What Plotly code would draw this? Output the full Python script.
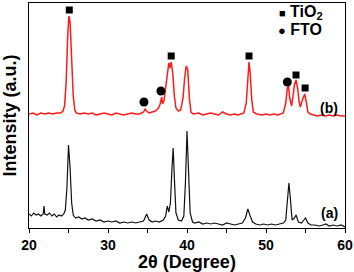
import plotly.graph_objects as go

# Sample (a) - black
xa = [20.0, 20.3, 20.6, 20.9, 21.2, 21.5, 21.8, 21.9, 22.0, 22.3, 22.6, 22.9, 23.2, 23.5, 23.8, 24.1, 24.4, 24.6, 24.8,
      25.0, 25.2, 25.4, 25.6, 25.9, 26.3, 26.7, 27.1, 27.5, 28.0, 28.5, 29.0, 29.5, 30.0, 30.5, 31.0, 31.5, 32.0, 32.5,
      33.0, 33.5, 34.0, 34.5, 34.9, 35.2, 35.6, 36.0, 36.5, 37.0, 37.3, 37.5, 37.7, 37.9, 38.1, 38.25, 38.4, 38.6, 38.9,
      39.3, 39.6, 39.8, 40.0, 40.2, 40.4, 40.7, 41.0, 41.5, 42.0, 42.5, 43.0, 43.5, 44.0, 44.5, 45.0, 45.5, 46.0, 46.5,
      47.0, 47.4, 47.7, 48.0, 48.3, 48.7, 49.2, 49.7, 50.2, 50.7, 51.2, 51.7, 52.2, 52.5, 52.7, 52.9, 53.1, 53.3, 53.6,
      53.8, 54.1, 54.5, 54.8, 55.0, 55.3, 55.7, 56.2, 56.7, 57.2, 57.6, 58.0, 58.5, 59.0, 59.5, 60.0]
ya = [14, 12, 15, 13, 14, 12, 14, 22, 14, 13, 15, 12, 14, 11, 13, 12, 14, 18, 40,
      83, 60, 25, 13, 10, 11, 9, 10, 8, 9, 7, 8, 6, 7, 6, 7, 5, 6, 5,
      6, 5, 6, 7, 14, 8, 6, 7, 6, 8, 12, 22, 16, 25, 60, 80, 50, 15, 8,
      7, 12, 45, 97, 55, 15, 6, 5, 6, 4, 5, 4, 5, 4, 3, 5, 4, 3, 4,
      5, 10, 19, 12, 6, 4, 3, 4, 3, 4, 3, 4, 5, 8, 25, 45, 28, 8, 10,
      13, 6, 5, 8, 10, 5, 3, 3, 2, 3, 4, 2, 3, 2, 3, 1]

# Sample (b) - red
xb = [20.0, 20.5, 21.0, 21.5, 22.0, 22.5, 23.0, 23.5, 24.0, 24.3, 24.5, 24.7, 24.9, 25.05, 25.2, 25.4, 25.6, 25.8,
      26.0, 26.5, 27.0, 27.5, 28.0, 28.5, 29.0, 29.5, 30.0, 30.5, 31.0, 31.5, 32.0, 32.5, 33.0, 33.5, 34.0, 34.5,
      34.7, 34.9, 35.2, 35.6, 36.0, 36.4, 36.6, 36.8, 36.9, 37.1, 37.3, 37.5, 37.7, 37.85, 38.0, 38.2, 38.4, 38.6,
      38.9, 39.2, 39.5, 39.7, 39.9, 40.1, 40.3, 40.5, 40.8, 41.5, 42.0, 42.5, 43.0, 43.5, 44.0, 44.5, 45.0, 45.5,
      46.0, 46.5, 47.0, 47.2, 47.5, 47.7, 47.85, 48.0, 48.2, 48.4, 48.8, 49.5, 50.0, 50.5, 51.0, 51.5, 52.0, 52.2,
      52.5, 52.7, 52.85, 53.0, 53.25, 53.45, 53.6, 53.8, 54.0, 54.2, 54.35, 54.6, 54.9, 55.1, 55.3, 55.6, 56.0,
      56.5, 57.0, 57.5, 58.0, 58.5, 59.0, 59.5, 60.0]
yb = [114, 115, 113, 115, 114, 115, 114, 115, 115, 117, 122, 145, 192, 212, 206, 172, 132, 118,
      115, 114, 115, 114, 115, 113, 114, 115, 114, 113, 115, 114, 113, 114, 115, 114, 114, 116,
      119, 117, 115, 116, 117, 120, 124, 131, 124, 128, 140, 155, 165, 160, 166, 155, 132, 120,
      117, 118, 130, 150, 162, 158, 130, 116, 114, 115, 113, 114, 115, 114, 113, 116, 114, 113,
      114, 113, 114, 115, 125, 155, 166, 155, 128, 116, 114, 113, 114, 113, 114, 113, 114, 115,
      125, 140, 142, 130, 122, 132, 143, 148, 140, 126, 121, 128, 134, 126, 116, 114, 113,
      112, 113, 112, 113, 112, 113, 112, 112]

# Phase markers
tio2_x = [25.1, 38.0, 47.85, 53.8, 54.95]
tio2_y = [218, 172, 172, 153, 140]
fto_x = [34.55, 36.7, 52.7]
fto_y = [126, 137, 146]

fig = go.Figure()
fig.add_trace(go.Scatter(x=xa, y=ya, mode="lines", line=dict(color="#111111", width=1.2), showlegend=False))
fig.add_trace(go.Scatter(x=xb, y=yb, mode="lines", line=dict(color="#ff1a1a", width=1.5), showlegend=False))
fig.add_trace(go.Scatter(x=tio2_x, y=tio2_y, mode="markers",
                         marker=dict(symbol="square", size=7, color="black"), showlegend=False))
fig.add_trace(go.Scatter(x=fto_x, y=fto_y, mode="markers",
                         marker=dict(symbol="circle", size=9, color="black"), showlegend=False))

font_family = "Arial, Liberation Sans, sans-serif"

fig.update_layout(
    width=354, height=272,
    margin=dict(l=29, r=9, t=3, b=44),
    paper_bgcolor="white", plot_bgcolor="white",
    font=dict(family=font_family, color="black"),
    xaxis=dict(range=[20, 60], dtick=10, ticks="outside", ticklen=4, tickwidth=1.2, tickcolor="black",
               minor=dict(dtick=5, ticks="outside", ticklen=4, tickwidth=1.2, tickcolor="black"),
               showline=True, linecolor="black", linewidth=1.3, mirror=True, showgrid=False, zeroline=False,
               tickfont=dict(size=14, weight="bold"), automargin=False,
               title=dict(text="2θ (Degree)", font=dict(size=18, weight="bold"), standoff=0)),
    yaxis=dict(range=[0, 225], showticklabels=False, ticks="", showline=True, linecolor="black",
               linewidth=1.3, mirror=True, showgrid=False, zeroline=False, automargin=False,
               title=dict(text="Intensity (a.u.)", font=dict(size=18, weight="bold"), standoff=6)),
    annotations=[
        dict(text="<span style='font-size:11px'>■</span> TiO<sub>2</sub>", x=0.785, y=0.958, xref="paper",
             yref="paper", xanchor="left", yanchor="middle", showarrow=False, font=dict(size=16, weight="bold")),
        dict(text="<span style='font-size:13px'>●</span> FTO", x=0.782, y=0.882, xref="paper", yref="paper",
             xanchor="left", yanchor="middle", showarrow=False, font=dict(size=16, weight="bold")),
        dict(text="(b)", x=0.985, y=0.535, xref="paper", yref="paper", xanchor="right", yanchor="middle",
             showarrow=False, font=dict(size=14, weight="bold")),
        dict(text="(a)", x=0.985, y=0.065, xref="paper", yref="paper", xanchor="right", yanchor="middle",
             showarrow=False, font=dict(size=14, weight="bold")),
    ],
)

fig.write_html("out.html", config={"displayModeBar": False},
               post_script="document.body.style.margin='0';document.body.style.padding='0';")
